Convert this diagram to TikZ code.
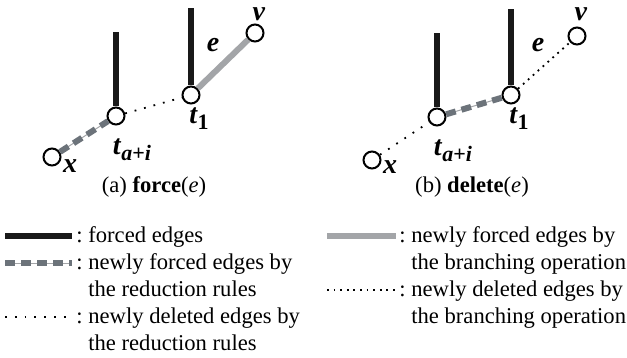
\documentclass[tikz,border=0pt]{standalone}
\usepackage{fontspec}
\setmainfont{Liberation Serif}
\usetikzlibrary{positioning}
\definecolor{dashgray}{HTML}{6C737A}
\definecolor{lightgray}{HTML}{A3A5A8}
\newcommand{\bi}[1]{\textbf{\textit{#1}}}
\newcommand{\lowsub}[1]{\raisebox{-0.45ex}{\fontsize{11}{12}\selectfont #1}}

\begin{document}
\begin{tikzpicture}[x=0.5pt,y=-0.5pt,
 font=\fontsize{11.3}{13.5}\selectfont,
 vertex/.style={circle,draw,line width=1pt,fill=white,minimum size=8.5pt,inner sep=0pt},
 forced/.style={line width=3pt,black!90},
 newforced/.style={line width=3pt,dashgray,dash pattern=on 5pt off 3pt,
   preaction={draw,solid,line width=0.5pt,lightgray}},
 branchforced/.style={line width=3pt,lightgray},
 reddel/.style={line width=0.9pt,dash pattern=on 0.9pt off 4pt},
 branchdel/.style={line width=0.9pt,dash pattern=on 0.9pt off 2.4pt},
 lbl/.style={inner sep=0pt,font=\fontsize{14}{16}\selectfont},
 legtext/.style={inner sep=0pt,anchor=north west,align=left}]
\useasboundingbox (0,0) rectangle (627,358);

% (a) force(e)
\node[vertex] (xa) at (52,157) {};
\node[vertex] (ta) at (116,116) {};
\node[vertex] (t1a) at (191,95) {};
\node[vertex] (va) at (255,33) {};
\coordinate (ta top) at (116,32);
\coordinate (t1a top) at (191,8);
\draw[forced] (ta) -- (ta top);
\draw[forced] (t1a) -- (t1a top);
\draw[newforced] (xa) -- (ta);
\draw[reddel] (ta) -- (t1a);
\draw[branchforced] (t1a) -- (va);
\node[lbl] (xalab) at (70,166) {\bi{x}};
\node[lbl] (talab) at (132,150) {\bi{t}\lowsub{\bi{a}\textbf{+}\bi{i}}};
\node[lbl] (t1alab) at (199,119) {\bi{t}\lowsub{\textbf{1}}};
\node[lbl] (ealab) at (213,45) {\bi{e}};
\node[lbl] (valab) at (259,14) {\bi{v}};
\node (capa) at (154,187) {(a) \textbf{force}(\textit{e})};

% (b) delete(e)
\node[vertex] (xb) at (372,160) {};
\node[vertex] (tb) at (437,117) {};
\node[vertex] (t1b) at (511,95) {};
\node[vertex] (vb) at (577,36) {};
\coordinate (tb top) at (437,33);
\coordinate (t1b top) at (511,9);
\draw[forced] (tb) -- (tb top);
\draw[forced] (t1b) -- (t1b top);
\draw[reddel] (xb) -- (tb);
\draw[newforced] (tb) -- (t1b);
\draw[branchdel] (t1b) -- (vb);
\node[lbl] (xblab) at (390,167) {\bi{x}};
\node[lbl] (tblab) at (453,151) {\bi{t}\lowsub{\bi{a}\textbf{+}\bi{i}}};
\node[lbl] (t1blab) at (519,119) {\bi{t}\lowsub{\textbf{1}}};
\node[lbl] (eblab) at (538,45) {\bi{e}};
\node[lbl] (vblab) at (581,14) {\bi{v}};
\node (capb) at (472,187) {(b) \textbf{delete}(\textit{e})};

% legend
\coordinate (l1s) at (5,236);  \coordinate (l1e) at (72,236);
\coordinate (l2s) at (5,263);  \coordinate (l2e) at (72,263);
\coordinate (l3s) at (5,317);  \coordinate (l3e) at (72,317);
\coordinate (r1s) at (327,236); \coordinate (r1e) at (396,236);
\coordinate (r2s) at (327,290); \coordinate (r2e) at (396,290);
\draw[forced] (l1s) -- (l1e);
\draw[newforced] (l2s) -- (l2e);
\draw[reddel] (l3s) -- (l3e);
\draw[branchforced] (r1s) -- (r1e);
\draw[branchdel] (r2s) -- (r2e);
\node[legtext] (l1t) at (88,226) {\llap{:\ }forced edges};
\node[legtext] (l2t) at (88,253) {\llap{:\ }newly forced edges by\\the reduction rules};
\node[legtext] (l3t) at (88,307) {\llap{:\ }newly deleted edges by\\the reduction rules};
\node[legtext] (r1t) at (411,226) {\llap{:\ }newly forced edges by\\the branching operation};
\node[legtext] (r2t) at (411,280) {\llap{:\ }newly deleted edges by\\the branching operation};
\end{tikzpicture}
\end{document}
